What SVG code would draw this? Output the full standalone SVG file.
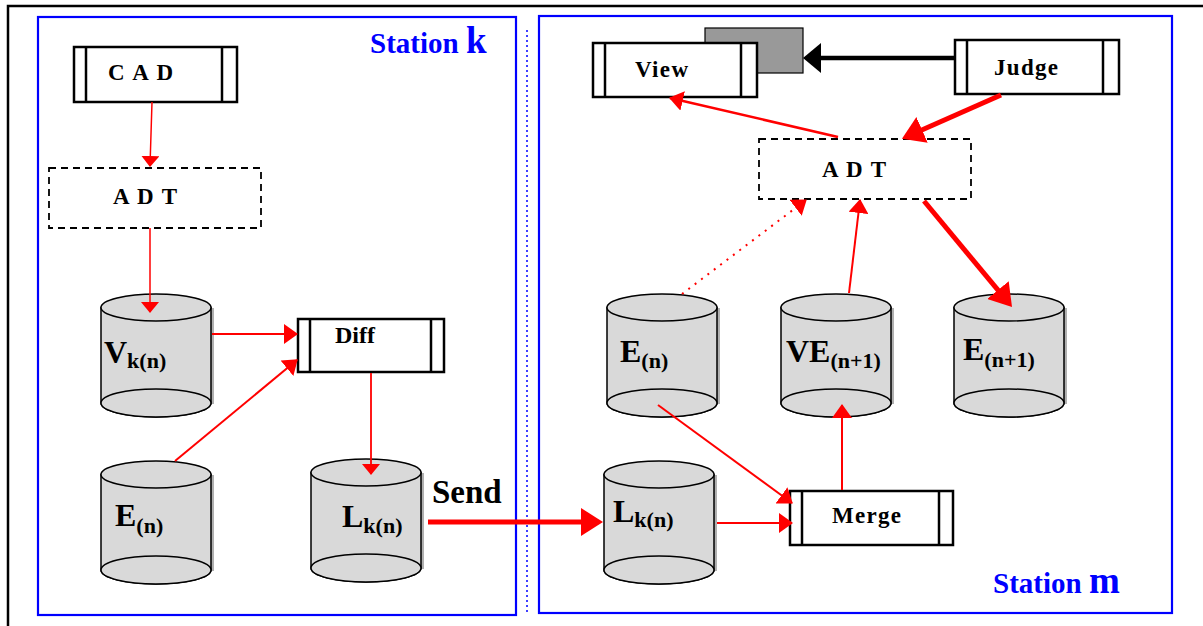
<svg xmlns="http://www.w3.org/2000/svg" xmlns:xlink="http://www.w3.org/1999/xlink" width="1203" height="626" viewBox="0 0 1203 626">
<style>
.frame{fill:none;stroke:#000;stroke-width:2.5}
.station{fill:none;stroke:#0000ff;stroke-width:2.2}
.proc{fill:#fff;stroke:#000;stroke-width:2.5}
.bar{stroke:#000;stroke-width:2.5}
.dash{fill:#fff;stroke:#000;stroke-width:1.8;stroke-dasharray:7,5}
.lbl{font-family:'Liberation Serif',serif;font-weight:bold;fill:#000}
.st{font-family:'Liberation Serif',serif;font-weight:bold;fill:#0000ff}
.red{fill:none;stroke:#ff0000}
</style>
<defs>
<marker id="mT" markerUnits="userSpaceOnUse" markerWidth="11" markerHeight="18" refX="10" refY="9" orient="auto"><path d="M0,0 L11,9 L0,18 Z" fill="#ff0000"/></marker>
<marker id="mA" markerUnits="userSpaceOnUse" markerWidth="14" markerHeight="20" refX="13" refY="10" orient="auto"><path d="M0,0 L14,10 L0,20 Z" fill="#ff0000"/></marker>
<marker id="mB" markerUnits="userSpaceOnUse" markerWidth="22" markerHeight="28" refX="4" refY="14" orient="auto"><path d="M0,0 L22,14 L0,28 Z" fill="#ff0000"/></marker>
<marker id="mK" markerUnits="userSpaceOnUse" markerWidth="18" markerHeight="30" refX="4" refY="15" orient="auto"><path d="M0,0 L18,15 L0,30 Z" fill="#000"/></marker>
<g id="cyl">
<rect x="110" y="14" width="3" height="96" fill="#b0b0b0"/>
<path d="M0,13.5 V109 A55,14 0 0 0 110,109 V13.5 Z" fill="#d9d9d9" stroke="#000" stroke-width="1.5"/>
<ellipse cx="55" cy="109" rx="55" ry="14" fill="#d9d9d9" stroke="#000" stroke-width="1.5"/>
<ellipse cx="55" cy="13.5" rx="55" ry="13.5" fill="#d9d9d9" stroke="#000" stroke-width="1.5"/>
</g>
</defs>
<rect width="1203" height="626" fill="#fff"/>
<path class="frame" d="M8,626 V6 H1203"/>
<g id="station-k">
<rect class="station" x="38" y="17" width="478" height="598"/>
<text class="st" font-family="'Liberation Serif', serif" x="370" y="53" font-size="29">Station <tspan font-size="37">k</tspan></text>
</g>
<line x1="527" y1="30" x2="527" y2="615" stroke="#0000ff" stroke-width="1.5" stroke-dasharray="2,3"/>
<g id="station-m">
<rect class="station" x="539" y="16" width="633" height="597"/>
<text class="st" font-family="'Liberation Serif', serif" x="993" y="593" font-size="29">Station <tspan font-size="37">m</tspan></text>
</g>

<g id="cad">
<rect class="proc" x="74" y="47" width="163" height="55"/>
<line class="bar" x1="86" y1="47" x2="86" y2="102"/>
<line class="bar" x1="222" y1="47" x2="222" y2="102"/>
<text class="lbl" font-family="'Liberation Serif', serif" x="108" y="80" font-size="23" textLength="65" lengthAdjust="spacing">C A D</text>
</g>
<g id="adt-k">
<rect class="dash" x="49" y="168" width="212" height="60"/>
<text class="lbl" font-family="'Liberation Serif', serif" x="113" y="204" font-size="23" textLength="64" lengthAdjust="spacing">A D T</text>
</g>
<g id="diff">
<rect class="proc" x="298" y="319" width="146" height="53"/>
<line class="bar" x1="310" y1="319" x2="310" y2="372"/>
<line class="bar" x1="431" y1="319" x2="431" y2="372"/>
<text class="lbl" font-family="'Liberation Serif', serif" x="335" y="343" font-size="24">Diff</text>
</g>
<g id="vk">
<use xlink:href="#cyl" x="101" y="294"/>
<text class="lbl" font-family="'Liberation Serif', serif" x="104" y="363" font-size="32">V<tspan font-size="22" dy="5">k(n)</tspan></text>
</g>
<g id="en-k">
<use xlink:href="#cyl" x="101" y="461"/>
<text class="lbl" font-family="'Liberation Serif', serif" x="115" y="526" font-size="32">E<tspan font-size="22" dy="7">(n)</tspan></text>
</g>
<g id="lk-k">
<use xlink:href="#cyl" x="311" y="459"/>
<text class="lbl" font-family="'Liberation Serif', serif" x="342" y="527" font-size="32">L<tspan font-size="22" dy="6">k(n)</tspan></text>
</g>

<g id="view">
<rect x="705" y="28" width="98" height="45" fill="#999" stroke="#000" stroke-width="1.2"/>
<rect class="proc" x="593" y="43" width="164" height="54"/>
<line class="bar" x1="605" y1="43" x2="605" y2="97"/>
<line class="bar" x1="741" y1="43" x2="741" y2="97"/>
<text class="lbl" font-family="'Liberation Serif', serif" x="635" y="77" font-size="23" textLength="53" lengthAdjust="spacing">View</text>
</g>
<g id="judge">
<rect class="proc" x="955" y="40" width="164" height="54"/>
<line class="bar" x1="967" y1="40" x2="967" y2="94"/>
<line class="bar" x1="1103" y1="40" x2="1103" y2="94"/>
<text class="lbl" font-family="'Liberation Serif', serif" x="994" y="75" font-size="23" textLength="64" lengthAdjust="spacing">Judge</text>
</g>
<g id="adt-m">
<rect class="dash" x="759" y="139" width="212" height="60"/>
<text class="lbl" font-family="'Liberation Serif', serif" x="822" y="177" font-size="23" textLength="64" lengthAdjust="spacing">A D T</text>
</g>
<g id="en-m">
<use xlink:href="#cyl" x="607" y="294"/>
<text class="lbl" font-family="'Liberation Serif', serif" x="620" y="362" font-size="32">E<tspan font-size="22" dy="6">(n)</tspan></text>
</g>
<g id="ve">
<use xlink:href="#cyl" x="781" y="294"/>
<text class="lbl" font-family="'Liberation Serif', serif" x="786" y="362" font-size="32">VE<tspan font-size="22" dy="6">(n+1)</tspan></text>
</g>
<g id="en1">
<use xlink:href="#cyl" x="954" y="294"/>
<text class="lbl" font-family="'Liberation Serif', serif" x="963" y="360" font-size="32">E<tspan font-size="22" dy="7">(n+1)</tspan></text>
</g>
<g id="lk-m">
<use xlink:href="#cyl" x="604" y="461"/>
<text class="lbl" font-family="'Liberation Serif', serif" x="613" y="522" font-size="32">L<tspan font-size="22" dy="5">k(n)</tspan></text>
</g>
<g id="merge">
<rect class="proc" x="790" y="491" width="163" height="54"/>
<line class="bar" x1="802" y1="491" x2="802" y2="545"/>
<line class="bar" x1="939" y1="491" x2="939" y2="545"/>
<text class="lbl" font-family="'Liberation Serif', serif" x="832" y="523" font-size="23" textLength="69" lengthAdjust="spacing">Merge</text>
</g>

<g id="connectors">
<line class="red" stroke-width="1.5" x1="152" y1="102" x2="150" y2="166" marker-end="url(#mT)"/>
<line class="red" stroke-width="1.5" x1="150" y1="228" x2="150" y2="312" marker-end="url(#mT)"/>
<line class="red" stroke-width="2" x1="212" y1="334" x2="297" y2="334" marker-end="url(#mA)"/>
<line class="red" stroke-width="2" x1="175" y1="461" x2="297" y2="360" marker-end="url(#mA)"/>
<line class="red" stroke-width="1.8" x1="371" y1="373" x2="371" y2="474" marker-end="url(#mT)"/>
<line class="red" stroke-width="5" x1="428" y1="522" x2="585" y2="522" marker-end="url(#mB)"/>
<line class="red" stroke-width="2" x1="717" y1="523" x2="792" y2="523" marker-end="url(#mA)"/>
<line class="red" stroke-width="2" x1="658" y1="405" x2="792" y2="503" marker-end="url(#mA)"/>
<line class="red" stroke-width="2" x1="842" y1="490" x2="842" y2="405" marker-end="url(#mA)"/>
<line class="red" stroke-width="2" x1="849" y1="293" x2="860" y2="200" marker-end="url(#mA)"/>
<line class="red" stroke-width="2" stroke-dasharray="2,6" x1="682" y1="294" x2="806" y2="200" marker-end="url(#mA)"/>
<line class="red" stroke-width="2.5" x1="838" y1="137" x2="670" y2="98" marker-end="url(#mA)"/>
<line class="red" stroke-width="5" x1="1001" y1="95" x2="918.4" y2="131.5" marker-end="url(#mB)"/>
<line class="red" stroke-width="5" x1="924" y1="201" x2="1000.5" y2="293.2" marker-end="url(#mB)"/>
<line stroke="#000" stroke-width="4.5" x1="955" y1="58" x2="817" y2="58" marker-end="url(#mK)"/>
<text class="lbl" font-family="'Liberation Serif', serif" x="432" y="503" font-size="33">Send</text>
</g>
</svg>
